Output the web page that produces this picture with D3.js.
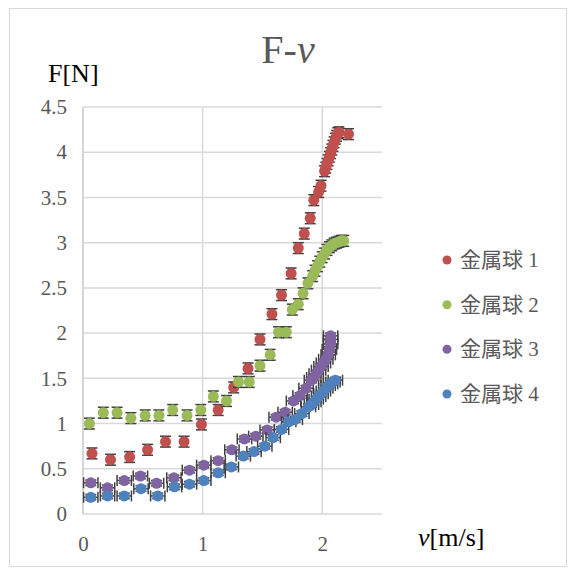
<!DOCTYPE html>
<html>
<head>
<meta charset="utf-8">
<script src="https://cdn.jsdelivr.net/npm/d3@7"></script>
<style>
  html, body { margin: 0; padding: 0; background: #fff; }
  svg { display: block; }
  .serif { font-family: "Liberation Serif", "DejaVu Serif", serif; }
  .legend-text { font-family: "Liberation Serif", "Noto Sans CJK JP", serif; }
</style>
</head>
<body>
<svg id="chart" width="572" height="572"></svg>
<script>
// Series names and colours
const seriesNames = ["金属球 1", "金属球 2", "金属球 3", "金属球 4"];
const seriesColors = ["#c0504d", "#9bbb59", "#8064a2", "#4f81bd"];

// Axis ticks
const xTicks = [0, 1, 2];
const yTicks = [0, 0.5, 1, 1.5, 2, 2.5, 3, 3.5, 4, 4.5];

// 金属球 1: velocity v [m/s] and force F [N]
const v1 = [0.075, 0.23, 0.39, 0.54, 0.69, 0.845, 0.99, 1.13, 1.26, 1.38, 1.48, 1.58, 1.66, 1.74, 1.80, 1.85, 1.90, 1.93, 1.97, 1.99,
            2.02, 2.03, 2.04, 2.05, 2.06, 2.07, 2.08, 2.09, 2.10, 2.11, 2.12, 2.13, 2.14, 2.22];
const F1 = [0.67, 0.60, 0.63, 0.71, 0.80, 0.80, 0.99, 1.15, 1.40, 1.61, 1.93, 2.21, 2.42, 2.66, 2.94, 3.10, 3.27, 3.47, 3.56, 3.63,
            3.79, 3.83, 3.87, 3.91, 3.95, 3.99, 4.03, 4.07, 4.11, 4.15, 4.18, 4.21, 4.22, 4.20];

// 金属球 2
const v2 = [0.053, 0.17, 0.285, 0.40, 0.52, 0.635, 0.75, 0.87, 0.985, 1.09, 1.20, 1.30, 1.39, 1.48, 1.565, 1.635, 1.70, 1.75, 1.80, 1.84, 1.88, 1.92,
            1.94, 1.96, 1.98, 2.00, 2.02, 2.04, 2.06, 2.08, 2.10, 2.12, 2.14, 2.16, 2.18];
const F2 = [1.00, 1.12, 1.12, 1.06, 1.09, 1.09, 1.15, 1.09, 1.15, 1.30, 1.25, 1.46, 1.46, 1.64, 1.76, 2.01, 2.01, 2.26, 2.32, 2.44, 2.55, 2.63,
            2.69, 2.74, 2.79, 2.84, 2.88, 2.92, 2.95, 2.97, 2.99, 3.00, 3.01, 3.02, 3.02];

// 金属球 3
const v3 = [0.065, 0.205, 0.345, 0.48, 0.615, 0.76, 0.89, 1.01, 1.13, 1.245, 1.35, 1.445, 1.54, 1.615, 1.69, 1.76, 1.815, 1.865, 1.91,
            1.93, 1.95, 1.97, 1.99, 2.01, 2.03, 2.05, 2.06, 2.07, 2.07, 2.07];
const F3 = [0.345, 0.29, 0.37, 0.42, 0.34, 0.40, 0.485, 0.54, 0.59, 0.71, 0.83, 0.86, 0.93, 1.07, 1.125, 1.25, 1.31, 1.39, 1.48,
            1.51, 1.55, 1.59, 1.63, 1.67, 1.71, 1.76, 1.82, 1.88, 1.93, 1.97];

// 金属球 4
const v4 = [0.065, 0.205, 0.345, 0.485, 0.625, 0.765, 0.89, 1.01, 1.13, 1.24, 1.34, 1.43, 1.52, 1.59, 1.66, 1.72, 1.775, 1.83, 1.885,
            1.91, 1.93, 1.95, 1.97, 1.99, 2.01, 2.03, 2.05, 2.07, 2.09, 2.11];
const F4 = [0.185, 0.20, 0.20, 0.28, 0.20, 0.30, 0.33, 0.37, 0.455, 0.52, 0.64, 0.69, 0.75, 0.845, 0.935, 1.02, 1.045, 1.11, 1.185,
            1.21, 1.24, 1.27, 1.30, 1.33, 1.36, 1.39, 1.42, 1.44, 1.46, 1.48];

// Measurement uncertainty per series (±)
const vErr = [0.02, 0.02, 0.06, 0.06];
const FErr = [0.06, 0.06, 0.03, 0.03];

const vData = [v1, v2, v3, v4];
const FData = [F1, F2, F3, F4];

const svg = d3.select("#chart");
const plot = { left: 83, right: 382, top: 107, bottom: 514 };

const gray = "#595959";
const gridColor = "#d9d9d9";

// Chart frame
svg.append("rect")
  .attr("x", 9.5).attr("y", 8.5)
  .attr("width", 557).attr("height", 558)
  .attr("fill", "#fff").attr("stroke", "#d9d9d9").attr("stroke-width", 1);

const x = d3.scaleLinear().domain([0, 2.5]).range([plot.left, plot.right]);
const y = d3.scaleLinear().domain([0, 4.5]).range([plot.bottom, plot.top]);

// Gridlines
const grid = svg.append("g");
grid.selectAll("line.h").data(yTicks).join("line")
  .attr("x1", plot.left).attr("x2", plot.right)
  .attr("y1", d => y(d)).attr("y2", d => y(d))
  .attr("stroke", gridColor).attr("stroke-width", 1.5);
grid.selectAll("line.v").data(xTicks.filter(d => d > 0)).join("line")
  .attr("x1", d => x(d)).attr("x2", d => x(d))
  .attr("y1", plot.top).attr("y2", plot.bottom)
  .attr("stroke", gridColor).attr("stroke-width", 1.5);
// Value axis line
grid.append("line")
  .attr("x1", x(0)).attr("x2", x(0))
  .attr("y1", plot.top).attr("y2", plot.bottom)
  .attr("stroke", "#c8c8c8").attr("stroke-width", 1.5);

// Axes (tick labels only)
const yAxis = d3.axisLeft(y).tickValues(yTicks).tickSize(0).tickPadding(16)
  .tickFormat(d => String(d));
const gy = svg.append("g").attr("transform", `translate(${plot.left},0)`).call(yAxis)
  .attr("font-family", null).attr("font-size", null);
gy.select(".domain").remove();
gy.selectAll("text").attr("class", "serif").style("font-size", "21px").attr("fill", gray);

const xAxis = d3.axisBottom(x).tickValues(xTicks).tickSize(0).tickPadding(22)
  .tickFormat(d => String(d));
const gx = svg.append("g").attr("transform", `translate(0,${plot.bottom})`).call(xAxis)
  .attr("font-family", null).attr("font-size", null);
gx.select(".domain").remove();
gx.selectAll("text").attr("class", "serif").style("font-size", "21px").attr("fill", gray);

// Data points with error bars
const capH = 5.5;
vData.forEach((vs, s) => {
  const pts = vs.map((v, i) => ({ v, F: FData[s][i] }));
  const g = svg.append("g");
  const eb = g.append("g").attr("stroke", "#404040").attr("stroke-width", 1.5);
  pts.forEach(p => {
    const cx = x(p.v), cy = y(p.F);
    const x0 = x(p.v - vErr[s]), x1 = x(p.v + vErr[s]);
    const y0 = y(p.F - FErr[s]), y1 = y(p.F + FErr[s]);
    eb.append("line").attr("x1", x0).attr("x2", x1).attr("y1", cy).attr("y2", cy);
    eb.append("line").attr("x1", x0).attr("x2", x0).attr("y1", cy - capH).attr("y2", cy + capH);
    eb.append("line").attr("x1", x1).attr("x2", x1).attr("y1", cy - capH).attr("y2", cy + capH);
    eb.append("line").attr("x1", cx).attr("x2", cx).attr("y1", y0).attr("y2", y1);
    eb.append("line").attr("x1", cx - capH).attr("x2", cx + capH).attr("y1", y0).attr("y2", y0);
    eb.append("line").attr("x1", cx - capH).attr("x2", cx + capH).attr("y1", y1).attr("y2", y1);
  });
  g.selectAll("circle").data(pts).join("circle")
    .attr("cx", d => x(d.v)).attr("cy", d => y(d.F))
    .attr("r", 5.5).attr("fill", seriesColors[s]);
});

// Title
const title = svg.append("text")
  .attr("class", "serif")
  .attr("x", 288).attr("y", 63).attr("text-anchor", "middle")
  .style("font-size", "40px").attr("fill", gray);
title.append("tspan").text("F-");
title.append("tspan").attr("font-style", "italic").text("v");

// Axis titles
svg.append("text")
  .attr("class", "serif")
  .attr("x", 48).attr("y", 82)
  .style("font-size", "26px").attr("fill", "#000")
  .text("F[N]");
const xt = svg.append("text")
  .attr("class", "serif")
  .attr("x", 418).attr("y", 546)
  .style("font-size", "26px").attr("fill", "#000");
xt.append("tspan").attr("font-style", "italic").text("v");
xt.append("tspan").text("[m/s]");

// Legend
const legend = svg.append("g");
const legendY = [260, 304.7, 349.3, 394];
seriesNames.forEach((name, i) => {
  legend.append("circle")
    .attr("cx", 447).attr("cy", legendY[i]).attr("r", 4.5)
    .attr("fill", seriesColors[i]);
  legend.append("text")
    .attr("class", "legend-text")
    .attr("x", 460).attr("y", legendY[i] + 7)
    .style("font-size", "21px").attr("fill", gray)
    .text(name);
});
</script>
</body>
</html>
